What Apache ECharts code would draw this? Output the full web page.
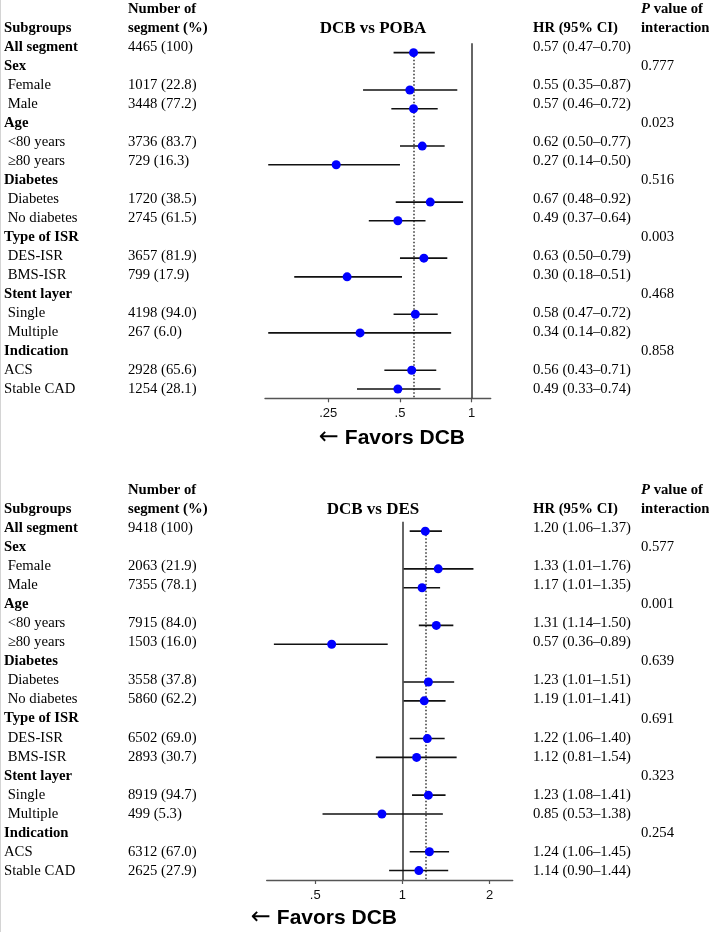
<!DOCTYPE html>
<html lang="en">
<head>
<meta charset="utf-8">
<title>DCB forest plots</title>
<script src="https://cdn.jsdelivr.net/npm/echarts@6/dist/echarts.min.js"></script>
<style>
    html, body { margin: 0; padding: 0; background: #fff; }
    #chart { width: 709px; height: 932px; }
</style>
</head>
<body>
<div id="chart"></div>
<script type="text/javascript">
    // rows shared by both panels (leading space = indented subgroup)
    var rowLabels = ['All segment', 'Sex', ' Female', ' Male', 'Age', ' <80 years', ' ≥80 years',
        'Diabetes', ' Diabetes', ' No diabetes', 'Type of ISR', ' DES-ISR', ' BMS-ISR',
        'Stent layer', ' Single', ' Multiple', 'Indication', 'ACS', 'Stable CAD'];
    var boldRows = [0, 1, 4, 7, 10, 13, 16];

    // DCB vs POBA
    var pobaN = ['4465 (100)', '', '1017 (22.8)', '3448 (77.2)', '', '3736 (83.7)', '729 (16.3)',
        '', '1720 (38.5)', '2745 (61.5)', '', '3657 (81.9)', '799 (17.9)',
        '', '4198 (94.0)', '267 (6.0)', '', '2928 (65.6)', '1254 (28.1)'];
    var pobaHR = [0.57, null, 0.55, 0.57, null, 0.62, 0.27, null, 0.67, 0.49, null, 0.63, 0.30, null, 0.58, 0.34, null, 0.56, 0.49];
    var pobaLo = [0.47, null, 0.35, 0.46, null, 0.50, 0.14, null, 0.48, 0.37, null, 0.50, 0.18, null, 0.47, 0.14, null, 0.43, 0.33];
    var pobaHi = [0.70, null, 0.87, 0.72, null, 0.77, 0.50, null, 0.92, 0.64, null, 0.79, 0.51, null, 0.72, 0.82, null, 0.71, 0.74];
    var pobaP = ['', '0.777', '', '', '0.023', '', '', '0.516', '', '', '0.003', '', '', '0.468', '', '', '0.858', '', ''];
    var pobaTicks = [0.25, 0.5, 1];
    var pobaTickLabels = ['.25', '.5', '1'];

    // DCB vs DES
    var desN = ['9418 (100)', '', '2063 (21.9)', '7355 (78.1)', '', '7915 (84.0)', '1503 (16.0)',
        '', '3558 (37.8)', '5860 (62.2)', '', '6502 (69.0)', '2893 (30.7)',
        '', '8919 (94.7)', '499 (5.3)', '', '6312 (67.0)', '2625 (27.9)'];
    var desHR = [1.20, null, 1.33, 1.17, null, 1.31, 0.57, null, 1.23, 1.19, null, 1.22, 1.12, null, 1.23, 0.85, null, 1.24, 1.14];
    var desLo = [1.06, null, 1.01, 1.01, null, 1.14, 0.36, null, 1.01, 1.01, null, 1.06, 0.81, null, 1.08, 0.53, null, 1.06, 0.90];
    var desHi = [1.37, null, 1.76, 1.35, null, 1.50, 0.89, null, 1.51, 1.41, null, 1.40, 1.54, null, 1.41, 1.38, null, 1.45, 1.44];
    var desP = ['', '0.577', '', '', '0.001', '', '', '0.639', '', '', '0.691', '', '', '0.323', '', '', '0.254', '', ''];
    var desTicks = [0.5, 1, 2];
    var desTickLabels = ['.5', '1', '2'];

    var SERIF = 'Liberation Serif';
    var SANS = 'Liberation Sans';
    var FS = 14.7;

    function lg(v) { return Math.log(v) / Math.LN2; }
    function f2(v) { return v.toFixed(2); }

    // text table items for one panel
    function tableItems(title, nArr, hr, lo, hi, pArr) {
        var items = [];
        function add(x, row, text, bold, extra) {
            var it = { x: x, row: row, text: text, bold: bold };
            for (var k in extra) it[k] = extra[k];
            items.push(it);
        }
        add(128, -2, 'Number of', true);
        add(641, -2, '{p|P} value of', true, { rich: true });
        add(4, -1, 'Subgroups', true);
        add(128, -1, 'segment (%)', true);
        add(373, -1, title, true, { size: 17, align: 'center' });
        add(533, -1, 'HR (95% CI)', true);
        add(641, -1, 'interaction', true);
        for (var i = 0; i < rowLabels.length; i++) {
            add(4, i, rowLabels[i], boldRows.indexOf(i) >= 0);
            if (nArr[i]) add(128, i, nArr[i], false);
            if (hr[i] != null) add(533, i, f2(hr[i]) + ' (' + f2(lo[i]) + '–' + f2(hi[i]) + ')', false);
            if (pArr[i]) add(641, i, pArr[i], false);
        }
        return items;
    }

    function textRender(items) {
        return function (params, api) {
            var it = items[params.dataIndex];
            var p = api.coord([api.value(0), api.value(1)]);
            var style = {
                text: it.text,
                x: 0, y: 0,
                fill: '#000',
                fontFamily: SERIF,
                fontSize: it.size || FS,
                fontWeight: it.bold ? 'bold' : 'normal',
                align: it.align || 'left',
                verticalAlign: 'middle'
            };
            if (it.rich) {
                style.rich = {
                    p: { fontFamily: SERIF, fontSize: FS, fontWeight: 'bold', fontStyle: 'italic', fill: '#000' }
                };
            }
            return { type: 'text', x: p[0], y: p[1], style: style };
        };
    }

    function tickFormatter(ticks, labels) {
        return function (v) {
            for (var i = 0; i < ticks.length; i++) {
                if (Math.abs(lg(ticks[i]) - v) < 1e-6) return labels[i];
            }
            return '';
        };
    }

    var chart = echarts.init(document.getElementById('chart'), null, { renderer: 'canvas' });

    var panels = [
        { title: 'DCB vs POBA', n: pobaN, hr: pobaHR, lo: pobaLo, hi: pobaHi, p: pobaP, ticks: pobaTicks, tickLabels: pobaTickLabels,
          textGrid: { left: 0, right: 0, top: 0, height: 399 },
          plotGrid: { left: 265, right: 218.3, top: 43.3, height: 355 }, xMin: 0.1357, xMax: 1.2015 },
        { title: 'DCB vs DES', n: desN, hr: desHR, lo: desLo, hi: desHi, p: desP, ticks: desTicks, tickLabels: desTickLabels,
          textGrid: { left: 0, right: 0, top: 480.7, height: 399.8 },
          plotGrid: { left: 266.7, right: 196.3, top: 521.7, height: 358.3 }, xMin: 0.340, xMax: 2.405 }
    ];

    var grid = [], xAxis = [], yAxis = [], series = [];
    panels.forEach(function (pn, k) {
        var tg = grid.length;
        grid.push(pn.textGrid);
        xAxis.push({ type: 'value', gridIndex: tg, min: 0, max: 709, show: false });
        yAxis.push({ type: 'value', gridIndex: tg, min: -2.5, max: 18.5, inverse: true, show: false });

        var pg = grid.length;
        grid.push(pn.plotGrid);
        xAxis.push({
            type: 'value', gridIndex: pg, min: lg(pn.xMin), max: lg(pn.xMax), position: 'bottom',
            axisLine: { show: true, onZero: false, lineStyle: { color: '#555', width: 1.4 } },
            axisTick: { show: true, length: 4, lineStyle: { color: '#555', width: 1.2 },
                customValues: pn.ticks.map(lg) },
            axisLabel: { show: true, margin: 9, color: '#111', fontFamily: SANS, fontSize: 13,
                customValues: pn.ticks.map(lg), formatter: tickFormatter(pn.ticks, pn.tickLabels) },
            splitLine: { show: false }
        });
        yAxis.push({ type: 'value', gridIndex: pg, min: -0.5, max: 18.5, inverse: true, show: false });

        var items = tableItems(pn.title, pn.n, pn.hr, pn.lo, pn.hi, pn.p);
        series.push({
            type: 'custom', xAxisIndex: tg, yAxisIndex: tg, silent: true,
            data: items.map(function (it) { return [it.x, it.row]; }),
            renderItem: textRender(items)
        });

        var ciData = [], ptData = [];
        for (var i = 0; i < pn.hr.length; i++) {
            if (pn.hr[i] == null) continue;
            ciData.push([lg(pn.lo[i]), lg(pn.hi[i]), i]);
            ptData.push([lg(pn.hr[i]), i]);
        }
        var overall = lg(pn.hr[0]);
        series.push({
            type: 'custom', xAxisIndex: pg, yAxisIndex: pg, silent: true, z: 3,
            encode: { x: [0, 1], y: 2 },
            data: ciData,
            renderItem: function (params, api) {
                var a = api.coord([api.value(0), api.value(2)]);
                var b = api.coord([api.value(1), api.value(2)]);
                return { type: 'line', shape: { x1: a[0], y1: a[1], x2: b[0], y2: b[1] },
                    style: { stroke: '#111', lineWidth: 1.6 } };
            },
            markLine: {
                silent: true, symbol: 'none', z: 2, animation: false,
                label: { show: false },
                data: [
                    { xAxis: 0, lineStyle: { type: 'solid', color: '#333', width: 1.5 } },
                    [{ coord: [overall, 0], lineStyle: { type: [1.5, 2], color: '#333', width: 1.5 } },
                     { coord: [overall, 18.5] }]
                ]
            }
        });
        series.push({
            type: 'scatter', xAxisIndex: pg, yAxisIndex: pg, silent: true, z: 10,
            symbol: 'circle', symbolSize: 9,
            itemStyle: { color: '#0000ff', opacity: 1 },
            data: ptData
        });
    });

    var favorStyle = function () {
        return { text: '{a|←} Favors DCB', fontFamily: SANS, fontSize: 21, fontWeight: 'bold', fill: '#000',
            align: 'right', verticalAlign: 'middle',
            rich: { a: { fontFamily: 'DejaVu Sans', fontSize: 24, fontWeight: 'normal', fill: '#000' } } };
    };

    chart.setOption({
        backgroundColor: '#fff',
        animation: false,
        grid: grid,
        xAxis: xAxis,
        yAxis: yAxis,
        series: series,
        graphic: [
            { type: 'line', silent: true, shape: { x1: 0.5, y1: 0, x2: 0.5, y2: 932 },
              style: { stroke: '#d4d4d4', lineWidth: 1 } },
            { type: 'text', silent: true, x: 465, y: 438, style: favorStyle() },
            { type: 'text', silent: true, x: 397, y: 918, style: favorStyle() }
        ]
    });
</script>
</body>
</html>
